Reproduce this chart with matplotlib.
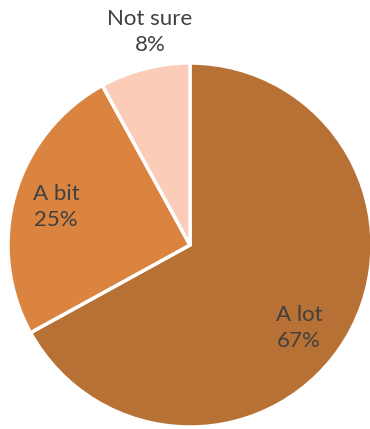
import matplotlib.pyplot as plt

# Survey answers
labels = ['A lot', 'A bit', 'Not sure']
shares = [67, 25, 8]
colors = ['#B87134', '#DA843F', '#FBCDB8']

# label anchor points in pixel space (x, y from top)
label_pos = [(299, 328), (56, 207), (150, 32)]

W, H = 370, 429
fig = plt.figure(figsize=(W / 100, H / 100), dpi=100)
ax = fig.add_axes([0, 0, 1, 1])

ax.pie(shares, colors=colors, startangle=90, counterclock=False,
       center=(190, H - 245), radius=182, frame=True,
       wedgeprops=dict(edgecolor='white', linewidth=2.5))
ax.set_xlim(0, W)
ax.set_ylim(0, H)
ax.set_aspect('equal')
ax.axis('off')

for lab, val, (x, y) in zip(labels, shares, label_pos):
    ax.text(x, H - y, f'{lab}\n{val}%', ha='center', va='center',
            fontsize=16, color='#404040', family='Lato',
            linespacing=1.35)

fig.savefig('out.png', dpi=100)
